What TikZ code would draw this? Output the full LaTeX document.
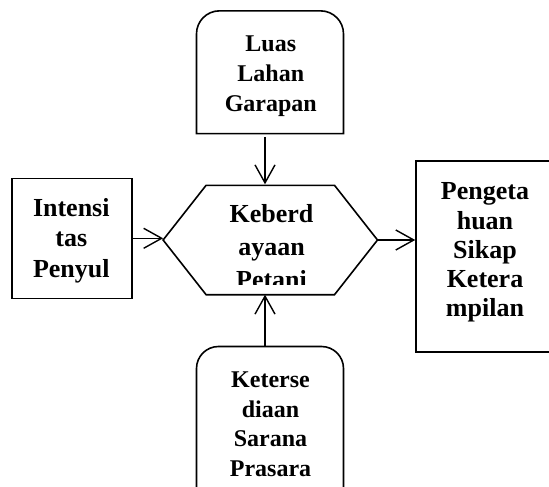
\documentclass[tikz,border=0pt]{standalone}
\usepackage{fontspec}
\setmainfont{Liberation Serif}
\usetikzlibrary{arrows.meta}
\tikzset{
  lab/.style={font=\bfseries\fontsize{24}{#1}\selectfont, align=center, inner sep=0pt},
  lab/.default=30,
  labBig/.style={lab, font=\bfseries\fontsize{26}{#1}\selectfont},
  frame/.style={rectangle, draw=none, inner sep=0pt},
  boxLine/.style={line width=1.6pt, draw=black},
  link/.style={line width=1.4pt, -{Straight Barb[length=18pt,width=20pt,line width=1.4pt]}}
}
\begin{document}
\begin{tikzpicture}[x=1pt,y=-1pt]
\useasboundingbox (0,0) rectangle (549,487);
\clip (0,0) rectangle (549,487);
% top
\node[frame, minimum width=146.6pt, minimum height=122.3pt] (luas) at (270,72.2) {};
\draw[boxLine] (luas.south west) -- ([yshift=-23pt]luas.north west)
  arc[start angle=180, end angle=90, radius=23pt] -- ([xshift=-23pt]luas.north east)
  arc[start angle=90, end angle=0, radius=23pt] -- (luas.south east) -- cycle;
\node[lab] (luasT) at (270.8,76) {Luas\\Lahan\\Garapan};

% left
\node[frame, boxLine, minimum width=119.5pt, minimum height=120pt] (intens) at (72,238.3) {};
\node[labBig=30.8] (intensT) at (71.3,240.7) {Intensi\\tas\\Penyul};

% middle
\node[frame, minimum width=214pt, minimum height=109pt] (keb) at (270.3,240) {};
\draw[boxLine] (keb.west) -- ([xshift=43pt]keb.north west) -- ([xshift=-43pt]keb.north east)
  -- (keb.east) -- ([xshift=-43pt]keb.south east) -- ([xshift=43pt]keb.south west) -- cycle;
\begin{scope}
\clip (200,190) rectangle (345,284);
\node[labBig=33] (kebT) at (271.5,246.4) {Keberd\\ayaan\\Petani};
\end{scope}

% right
\node[frame, boxLine, minimum width=137pt, minimum height=191pt] (peng) at (484.5,256.2) {};
\node[labBig=29.3] (pengT) at (485,252.6) {Pengeta\\huan\\Sikap\\Ketera\\mpilan};

% bottom
\node[frame, minimum width=146.6pt, minimum height=163.3pt] (ket) at (270,428.35) {};
\draw[boxLine] (ket.south west) -- ([yshift=-22pt]ket.north west)
  arc[start angle=180, end angle=90, radius=22pt] -- ([xshift=-22pt]ket.north east)
  arc[start angle=90, end angle=0, radius=22pt] -- (ket.south east) -- cycle;
\node[lab=29.5] (ketT) at (270.5,424.5) {Keterse\\diaan\\Sarana\\Prasara};

% arrows
\draw[link, shorten <=3.4pt, shorten >=1pt] ([xshift=-5pt]luas.south) -- ([xshift=-5pt]luas.south |- keb.north);
\draw[link] (intens.east) -- (intens.east -| keb.west);
\draw[link] (keb.east) -- (keb.east -| peng.west);
\draw[link] ([xshift=-5pt]ket.north) -- ([xshift=-5pt]ket.north |- keb.south);
\end{tikzpicture}
\end{document}
